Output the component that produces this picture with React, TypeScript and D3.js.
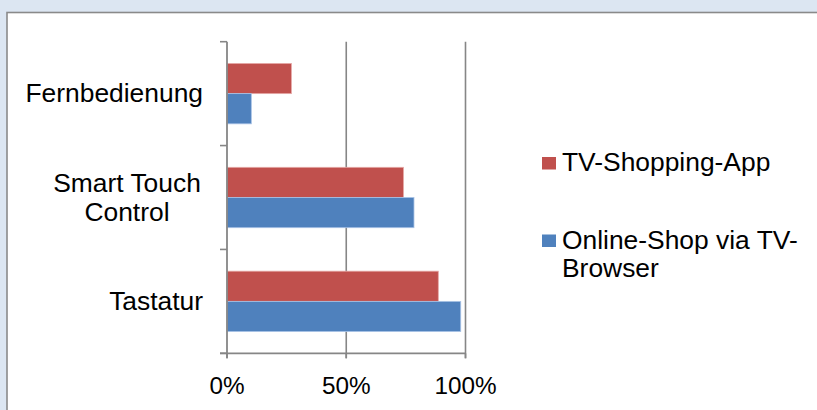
import React from "react";
import * as d3 from "d3";

const categories = ["Fernbedienung", "Smart Touch\nControl", "Tastatur"];
const seriesNames = ["TV-Shopping-App", "Online-Shop via TV-\nBrowser"];
const appValues = [0.27, 0.74, 0.886];
const browserValues = [0.102, 0.784, 0.98];
const xTicks = [0, 0.5, 1];
const colors = ["#c0504d", "#4f81bd"];
const strokes = ["#e6a9a7", "#a9c3e6"];

const W = 817;
const H = 410;
const FONT = "'Liberation Sans', Arial, sans-serif";
const FS = 26.4;
const TFS = 24.3;

export default function App() {
  const x = d3.scaleLinear().domain([0, 1]).range([227, 465.5]);
  const y = d3.scaleBand<string>().domain(categories).range([41.7, 353.3]);
  const inner = d3
    .scaleBand<number>()
    .domain([0, 1])
    .range([0, y.bandwidth()])
    .paddingOuter(0.72)
    .paddingInner(0);
  const series = [appValues, browserValues];
  const axisColor = "#868686";

  return (
    <svg
      width={W}
      height={H}
      style={{ position: "fixed", left: 0, top: 0, fontFamily: FONT }}
    >
      <rect x={0} y={0} width={W} height={H} fill="#dce6f2" />
      <rect x={7} y={12.5} width={W} height={H} fill="#ffffff" stroke="#8a8a8a" strokeWidth={1.6} />
      {/* gridlines */}
      {xTicks.slice(1).map((t) => (
        <line key={"g" + t} x1={x(t)} x2={x(t)} y1={y.range()[0]} y2={y.range()[1] + 5} stroke={axisColor} strokeWidth={1.6} />
      ))}
      {/* bars */}
      {categories.map((c, i) =>
        series.map((vals, s) => (
          <rect
            key={c + s}
            x={x(0)}
            y={(y(c) as number) + (inner(s) as number)}
            width={x(vals[i]) - x(0)}
            height={inner.bandwidth()}
            fill={colors[s]}
            stroke={strokes[s]}
            strokeWidth={0.8}
          />
        ))
      )}
      {/* y axis */}
      <line x1={x(0)} x2={x(0)} y1={y.range()[0]} y2={y.range()[1] + 5} stroke={axisColor} strokeWidth={1.8} />
      {[...categories.map((c) => y(c) as number), y.range()[1]].map((v, i) => (
        <line key={"yt" + i} x1={x(0) - 7} x2={x(0)} y1={v} y2={v} stroke={axisColor} strokeWidth={1.6} />
      ))}
      {/* x axis */}
      <line x1={x(0) - 7} x2={x(1)} y1={y.range()[1]} y2={y.range()[1]} stroke={axisColor} strokeWidth={1.8} />
      {xTicks.map((t) => (
        <g key={"xt" + t}>
          <line x1={x(t)} x2={x(t)} y1={y.range()[1]} y2={y.range()[1] + 5} stroke={axisColor} strokeWidth={1.6} />
          <text x={x(t)} y={394} textAnchor="middle" fontSize={TFS} fill="#000">
            {d3.format(".0%")(t)}
          </text>
        </g>
      ))}
      {/* category labels */}
      {categories.map((c) => {
        const lines = c.split("\n");
        const cy = (y(c) as number) + y.bandwidth() / 2;
        const lh = 29;
        if (lines.length === 1) {
          return (
            <text key={c} x={203} y={cy + 8.5} textAnchor="end" fontSize={FS} fill="#000">
              {c}
            </text>
          );
        }
        return (
          <text key={c} x={127} textAnchor="middle" fontSize={FS} fill="#000">
            {lines.map((l, k) => (
              <tspan key={k} x={127} y={cy + 8.5 + (k - (lines.length - 1) / 2) * lh}>
                {l}
              </tspan>
            ))}
          </text>
        );
      })}
      {/* legend */}
      {seriesNames.map((n, s) => {
        const base = s === 0 ? 171 : 248.5;
        const lines = n.split("\n");
        return (
          <g key={n}>
            <rect x={542} y={base - 14} width={14} height={12.5} fill={colors[s]} />
            <text fontSize={FS} fill="#000">
              {lines.map((l, k) => (
                <tspan key={k} x={562} y={base + k * 28.5}>
                  {l}
                </tspan>
              ))}
            </text>
          </g>
        );
      })}
    </svg>
  );
}
